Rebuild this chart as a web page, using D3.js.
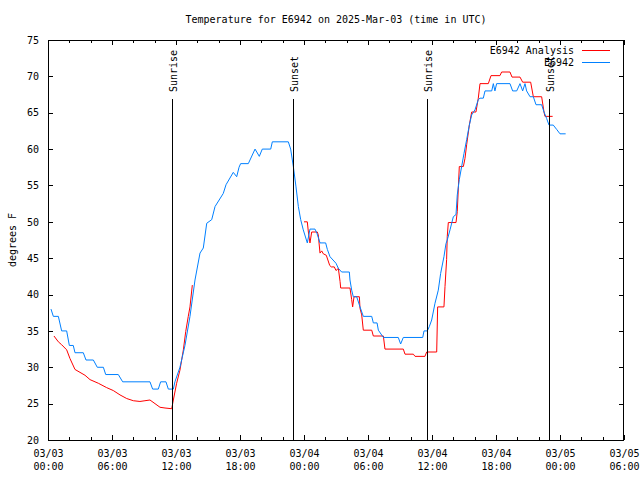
<!DOCTYPE html>
<html>
<head>
<meta charset="utf-8">
<script src="https://cdn.jsdelivr.net/npm/d3@7"></script>
<style>
  html, body { margin: 0; padding: 0; background: #fff; }
  svg { display: block; }
  text { font-family: "DejaVu Sans Mono", "Liberation Mono", monospace; font-size: 10px; fill: #000; }
</style>
</head>
<body>
<script>
// ---- DATA ----
const titleText = "Temperature for E6942 on 2025-Mar-03 (time in UTC)";
const yLabel = "degrees F";
const startUTC = Date.UTC(2025, 2, 3, 0, 0);
const endUTC = Date.UTC(2025, 2, 5, 6, 0);
const yTicks = [20, 25, 30, 35, 40, 45, 50, 55, 60, 65, 70, 75];
const seriesNames = ["E6942 Analysis", "E6942"];

// Observation series E6942: hours since 2025-03-03 00:00 UTC, degrees F
const obsHours = [0.28, 0.5, 0.97, 1.28, 1.75, 2.0, 2.37, 2.53, 3.31, 3.56, 4.25, 4.62, 5.19, 5.41, 6.59, 7.0,
  9.56, 9.81, 10.34, 10.56, 11.06, 11.28, 11.75, 11.9, 12.37, 12.84, 13.31, 13.78, 14.25, 14.56, 14.88, 15.35,
  15.66, 16.43, 16.69, 17.37, 17.69, 17.91, 18.06, 18.78, 19.41, 19.81, 20.09, 20.88, 21.03, 22.53, 22.75, 23.0,
  23.25, 23.47, 23.69, 23.93, 24.31, 24.56, 25.03, 25.22, 25.5, 26.03, 26.19, 26.44, 27.0, 27.22, 27.53, 28.25,
  28.31, 28.47, 28.62, 28.94, 29.25, 29.56, 30.35, 30.5, 30.85, 30.97, 31.44, 32.84, 33.06, 33.31, 35.13, 35.25,
  35.56, 35.75, 35.97, 36.28, 36.59, 36.81, 37.12, 37.31, 37.43, 37.69, 38.0, 38.25, 38.37, 38.56, 38.78, 39.0,
  39.25, 39.5, 39.72, 40.03, 40.34, 40.5, 40.81, 40.97, 41.6, 41.75, 41.9, 42.06, 43.31, 43.56, 43.94, 44.25,
  44.5, 44.72, 44.87, 45.19, 45.5, 45.75, 46.28, 46.5, 46.75, 46.97, 47.37, 47.69, 48.0, 48.53];
const obsTemps = [38, 37, 37, 35, 35, 33, 33, 32, 32, 31, 31, 30, 30, 29, 29, 28,
  28, 27, 27, 28, 28, 27, 27, 28, 30, 33, 37, 42, 45.7, 46.4, 49.8, 50.3,
  52.1, 53.9, 55.1, 56.8, 56.2, 57.5, 58, 58, 60, 59, 60, 60, 61, 61, 60, 57.6,
  54.8, 52.1, 50.3, 48.9, 47.1, 49, 49, 48.4, 47.1, 47.1, 46.2, 45.2, 44.3, 43.6, 43.1, 43.1,
  42, 40.6, 39.7, 39.7, 38.3, 37, 37, 36.1, 36.1, 35.1, 34.1, 34.1, 33.2, 34.1, 34.1, 35,
  35, 35.6, 36.5, 38.8, 40.6, 42.9, 45.2, 47, 47.5, 48.9, 50.7, 51, 53.7, 55.8, 57.6, 59.4,
  61.3, 63.3, 64.7, 65.4, 66.8, 67, 67, 68, 68, 69, 68, 69, 69, 68, 68, 69,
  68, 69, 68, 67.2, 67.2, 66.1, 66.1, 65.1, 64.2, 63.3, 63.3, 62.7, 62.1, 62.1];

// Analysis series E6942 Analysis (null = gap)
const anaHours = [0.56, 0.97, 1.28, 1.75, 2.06, 2.53, 3.0, 3.47, 3.94, 4.72, 5.5, 6.12, 6.75, 7.38, 8.0, 8.62,
  9.09, 9.56, 10.03, 10.5, 10.97, 11.6, 11.75, 12.06, 12.37, 12.69, 12.91, 13.15, 13.31, 13.53, 18.0,
  24.0, 24.31, 24.41, 24.56, 24.72, 25.25, 25.34, 25.5, 25.66, 25.81, 26.09, 26.41, 26.56, 26.84, 27.0, 27.22,
  27.38, 27.44, 28.31, 28.47, 28.56, 28.69, 29.19, 29.25, 29.41, 29.56, 30.35, 30.5, 31.44, 31.59, 33.31,
  33.47, 34.25, 34.41, 35.34, 35.5, 36.44, 36.53, 37.12, 37.22, 37.37, 37.43, 37.53, 38.25, 38.37, 38.56,
  38.94, 39.09, 39.25, 39.5, 39.72, 40.12, 40.34, 40.5, 41.28, 41.53, 42.37, 42.53, 43.31, 43.5, 44.25,
  44.5, 45.25, 45.5, 46.28, 46.5, 46.59, 47.31];
const anaTemps = [34.3, 33.5, 33.1, 32.4, 31.2, 29.7, 29.3, 28.9, 28.3, 27.8, 27.2, 26.8, 26.2, 25.7, 25.4, 25.3,
  25.4, 25.5, 25.0, 24.5, 24.4, 24.3, 25.5, 27.8, 29.6, 32.4, 34.9, 37, 38.3, 41.3, null,
  50, 50, 48.6, 47.1, 48.6, 48.6, 48.2, 45.7, 46.0, 45.6, 45.4, 44.0, 43.8, 43.8, 43.3, 43.6,
  41.8, 40.9, 40.9, 39.3, 38.3, 39.7, 39.7, 38.1, 37.2, 35.1, 35.1, 34.3, 34.3, 32.5, 32.5,
  31.8, 31.8, 31.5, 31.5, 32.1, 32.1, 38.3, 38.3, 41.1, 44.8, 48, 49.9, 49.9, 51.4, 57.6,
  57.6, 58.7, 60.6, 63.3, 65.1, 65.1, 67, 69, 69, 70.1, 70.1, 70.6, 70.6, 69.9, 69.9,
  69.2, 69.2, 67.2, 67.2, 65.1, 64.5, 64.5];

// Sun events (hours since start)
const sunLabels = ["Sunrise", "Sunset", "Sunrise", "Sunset"];
const sunHours = [11.65, 22.97, 35.56, 47.0];

// ---- CHART ----
const W = 640, H = 480;
const M = { left: 48, right: 16, top: 40, bottom: 40 };
const toDate = h => new Date(startUTC + h * 3600e3);

const svg = d3.select("body").append("svg").attr("width", W).attr("height", H);

const x = d3.scaleUtc().domain([new Date(startUTC), new Date(endUTC)]).range([M.left, W - M.right]);
const y = d3.scaleLinear().domain([20, 75]).range([H - M.bottom, M.top]);

const fmtDate = d3.utcFormat("%m/%d"), fmtTime = d3.utcFormat("%H:%M");
const majorX = d3.utcHour.every(6), minorX = d3.utcHour.every(2);

// Bottom major
svg.append("g").attr("transform", `translate(0,${y(20)})`)
  .call(d3.axisBottom(x).ticks(majorX).tickSizeInner(-5).tickSizeOuter(0).tickPadding(7).tickFormat(""))
  .call(g => {
    g.select(".domain").remove();
    g.selectAll(".tick line").attr("shape-rendering", "crispEdges");
    g.selectAll(".tick text").each(function(d) {
      const t = d3.select(this).attr("y", null).attr("dy", null);
      t.append("tspan").attr("x", 0).attr("y", 17).text(fmtDate(d));
      t.append("tspan").attr("x", 0).attr("y", 30).text(fmtTime(d));
    });
    g.selectAll("text").attr("font-family", null).attr("font-size", null);
  });
// Bottom minor
svg.append("g").attr("transform", `translate(0,${y(20)})`)
  .call(d3.axisBottom(x).ticks(minorX).tickSizeInner(-3).tickSizeOuter(0).tickFormat(""))
  .call(g => { g.select(".domain").remove(); g.selectAll("line").attr("shape-rendering", "crispEdges"); });
// Top major/minor (mirror)
svg.append("g").attr("transform", `translate(0,${y(75)})`)
  .call(d3.axisTop(x).ticks(majorX).tickSizeInner(-5).tickSizeOuter(0).tickFormat(""))
  .call(g => { g.select(".domain").remove(); g.selectAll("line").attr("shape-rendering", "crispEdges"); });
svg.append("g").attr("transform", `translate(0,${y(75)})`)
  .call(d3.axisTop(x).ticks(minorX).tickSizeInner(-3).tickSizeOuter(0).tickFormat(""))
  .call(g => { g.select(".domain").remove(); g.selectAll("line").attr("shape-rendering", "crispEdges"); });

// Left y
svg.append("g").attr("transform", `translate(${M.left},0)`)
  .call(d3.axisLeft(y).tickValues(yTicks).tickSizeInner(-5).tickSizeOuter(0).tickPadding(9).tickFormat(d3.format("d")))
  .call(g => {
    g.select(".domain").remove();
    g.selectAll("line").attr("shape-rendering", "crispEdges");
    g.selectAll("text").attr("font-family", null).attr("font-size", null);
  });
// Right mirror
svg.append("g").attr("transform", `translate(${W - M.right},0)`)
  .call(d3.axisRight(y).tickValues(yTicks).tickSizeInner(-5).tickSizeOuter(0).tickFormat(""))
  .call(g => { g.select(".domain").remove(); g.selectAll("line").attr("shape-rendering", "crispEdges"); });

// Frame
svg.append("rect")
  .attr("x", M.left + 0.5).attr("y", M.top + 0.5)
  .attr("width", W - M.left - M.right - 1).attr("height", H - M.top - M.bottom)
  .attr("fill", "none").attr("stroke", "#000").attr("shape-rendering", "crispEdges");

// Title
svg.append("text").attr("x", (M.left + W - M.right) / 2).attr("y", 23)
  .attr("text-anchor", "middle").text(titleText);

// Y label
svg.append("text").attr("transform", `translate(12,${(M.top + H - M.bottom) / 2}) rotate(-90)`)
  .attr("text-anchor", "middle").attr("dy", "0.35em").text(yLabel);

// Data lines
const line = d3.line()
  .defined(d => d[1] !== null)
  .x(d => x(toDate(d[0])))
  .y(d => y(d[1]));

const anaData = anaHours.map((h, i) => [h, anaTemps[i]]);
const obsData = obsHours.map((h, i) => [h, obsTemps[i]]);

svg.append("path").datum(anaData).attr("d", line)
  .attr("fill", "none").attr("stroke", "#ff0000").attr("stroke-width", 1);
svg.append("path").datum(obsData).attr("d", line)
  .attr("fill", "none").attr("stroke", "#0080ff").attr("stroke-width", 1);

// Sun lines
sunHours.forEach((h, i) => {
  const xx = Math.round(x(toDate(h))) + 0.5;
  svg.append("line").attr("x1", xx).attr("x2", xx).attr("y1", 99).attr("y2", y(20))
    .attr("stroke", "#000").attr("shape-rendering", "crispEdges");
  svg.append("text").attr("transform", `translate(${xx + 0.5},92) rotate(-90)`)
    .attr("dy", "0.35em").text(sunLabels[i]);
});

// Legend
const legColors = ["#ff0000", "#0080ff"];
seriesNames.forEach((name, i) => {
  const cy = 50 + i * 12;
  svg.append("text").attr("x", 574).attr("y", cy).attr("dy", "0.35em")
    .attr("text-anchor", "end").text(name);
  svg.append("line").attr("x1", 582).attr("x2", 610).attr("y1", cy + 0.5).attr("y2", cy + 0.5)
    .attr("stroke", legColors[i]).attr("stroke-width", 1);
});
</script>
</body>
</html>
